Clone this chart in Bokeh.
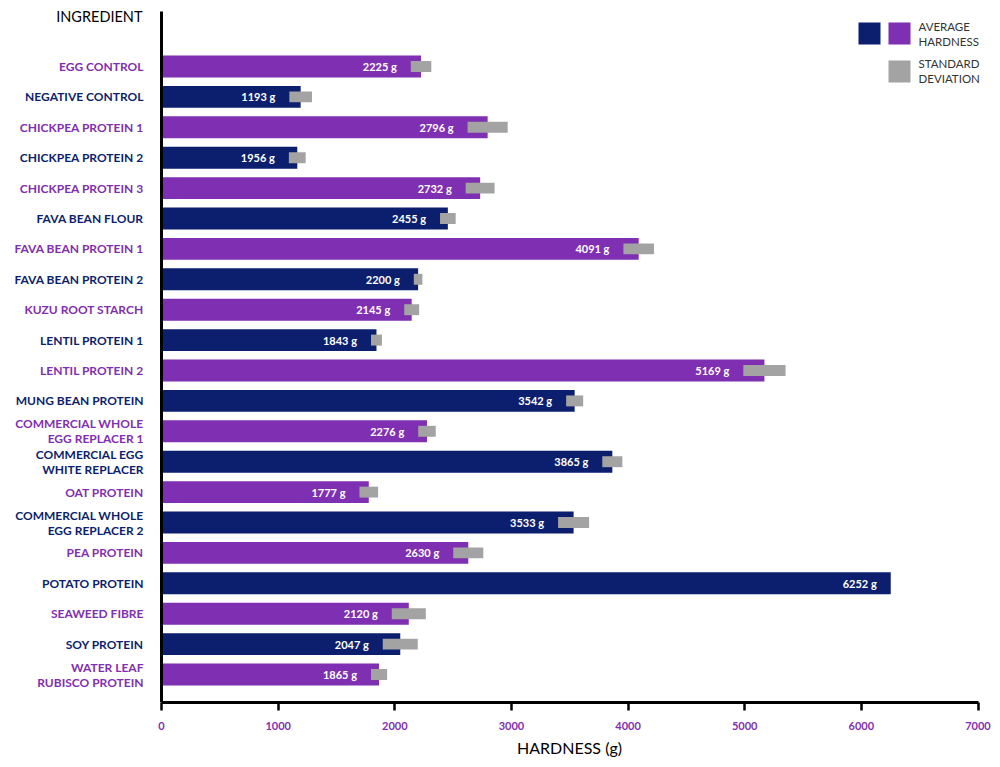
from bokeh.plotting import figure
from bokeh.layouts import row
from bokeh.models import (ColumnDataSource, Range1d, FixedTicker, LabelSet, Label,
                          BoxAnnotation)
from bokeh.core.properties import value
from bokeh.embed import file_html
from bokeh.resources import INLINE

ingredients = [
    "EGG CONTROL", "NEGATIVE CONTROL", "CHICKPEA PROTEIN 1", "CHICKPEA PROTEIN 2",
    "CHICKPEA PROTEIN 3", "FAVA BEAN FLOUR", "FAVA BEAN PROTEIN 1", "FAVA BEAN PROTEIN 2",
    "KUZU ROOT STARCH", "LENTIL PROTEIN 1", "LENTIL PROTEIN 2", "MUNG BEAN PROTEIN",
    "COMMERCIAL WHOLE\nEGG REPLACER 1", "COMMERCIAL EGG\nWHITE REPLACER", "OAT PROTEIN",
    "COMMERCIAL WHOLE\nEGG REPLACER 2", "PEA PROTEIN", "POTATO PROTEIN", "SEAWEED FIBRE",
    "SOY PROTEIN", "WATER LEAF\nRUBISCO PROTEIN",
]
hardness = [2225, 1193, 2796, 1164, 2732, 2455, 4091, 2200, 2145, 1843, 5169, 3542,
            2276, 3865, 1777, 3533, 2630, 6252, 2120, 2047, 1865]
value_labels = ["2225 g", "1193 g", "2796 g", "1956 g", "2732 g", "2455 g", "4091 g",
                "2200 g", "2145 g", "1843 g", "5169 g", "3542 g", "2276 g", "3865 g",
                "1777 g", "3533 g", "2630 g", "6252 g", "2120 g", "2047 g", "1865 g"]
std_dev = [88, 97, 172, 72, 124, 67, 131, 37, 64, 47, 181, 73, 75, 86, 80, 133, 129, 0,
           146, 150, 69]
x_ticks = [0, 1000, 2000, 3000, 4000, 5000, 6000, 7000]

PURPLE = "#7f2fb1"
NAVY = "#0b1f6e"
GRAY = "#a3a3a3"
FONT = "Lato"

n = len(ingredients)
pos = list(range(n))
colors = [PURPLE if i % 2 == 0 else NAVY for i in pos]

src = ColumnDataSource(dict(
    y=pos, v=hardness, lab=value_labels, sd=std_dev, color=colors,
    lo=[h - s for h, s in zip(hardness, std_dev)],
    hi=[h + s for h, s in zip(hardness, std_dev)],
))

# layout in page pixels
W, H = 992, 759
LEFT_W = 150                            # width of the label panel
FRAME_R, FRAME_T, FRAME_B = 988, 2, 702
AX0_PX, AX7_PX = 161.0, 977.5          # pixel positions of x=0 and x=7000
ROW0_PX, ROW_STEP = 66.0, 30.4         # pixel centre of first row, row spacing
LINE_STEP = 15.0 / ROW_STEP            # line spacing of two-line labels (rows)
XMAX = x_ticks[-1]

sx = (AX7_PX - AX0_PX) / XMAX
def dx(px):
    return (px - AX0_PX) / sx
def dy(py):
    return (py - ROW0_PX) / ROW_STEP

y_range = Range1d(dy(FRAME_B), dy(FRAME_T))

# split category names into right-aligned lines
line_y, line_txt, line_col = [], [], []
for i, name in enumerate(ingredients):
    parts = name.split("\n")
    k = len(parts)
    for j, part in enumerate(parts):
        line_y.append(i + (j - (k - 1) / 2) * LINE_STEP)
        line_txt.append(part)
        line_col.append(colors[i])

# ---------------- label panel ----------------
lp = figure(width=LEFT_W, height=H, output_backend="svg", toolbar_location=None,
            x_range=Range1d(0, LEFT_W), y_range=y_range,
            min_border_left=0, min_border_right=0,
            min_border_top=FRAME_T, min_border_bottom=H - FRAME_B)
lp.outline_line_color = None
lp.grid.visible = False
lp.axis.visible = False

lsrc = ColumnDataSource(dict(y=line_y, name=line_txt, color=line_col,
                             x=[LEFT_W - 7] * len(line_y)))
lp.add_layout(LabelSet(x="x", y="y", text="name", source=lsrc,
                       text_align="right", text_baseline="middle", text_color="color",
                       text_font=value(FONT), text_font_style="bold",
                       text_font_size="12px"))
lp.add_layout(Label(x=LEFT_W - 8, y=dy(16), text="INGREDIENT", text_align="right",
                    text_baseline="middle", text_font=FONT, text_font_size="14.5px",
                    text_color="black"))

# ---------------- main chart ----------------
p = figure(width=W - LEFT_W, height=H, output_backend="svg", toolbar_location=None,
           x_range=Range1d(dx(LEFT_W), dx(FRAME_R)), y_range=y_range,
           min_border_left=0, min_border_right=W - FRAME_R,
           min_border_top=FRAME_T, min_border_bottom=H - FRAME_B)
p.outline_line_color = None
p.grid.visible = False
p.background_fill_color = "white"

p.hbar(y="y", left=0, right="v", height=0.72, fill_color="color", line_color=None,
       source=src)
p.hbar(y="y", left="lo", right="hi", height=0.36, fill_color=GRAY, line_color=None,
       source=src)

p.add_layout(LabelSet(x="lo", y="y", text="lab", source=src, x_offset=-14,
                      text_align="right", text_baseline="middle", text_color="white",
                      text_font=value(FONT), text_font_style="bold",
                      text_font_size="11px"))

xa = p.xaxis[0]
xa.ticker = FixedTicker(ticks=x_ticks)
xa.bounds = (0, XMAX)
xa.minor_tick_line_color = None
xa.major_tick_in = 0
xa.major_tick_out = 8
xa.major_tick_line_width = 2.5
xa.axis_line_width = 3
xa.axis_line_color = "black"
xa.major_tick_line_color = "black"
xa.major_label_text_color = PURPLE
xa.major_label_text_font = FONT
xa.major_label_text_font_style = "bold"
xa.major_label_text_font_size = "11px"
xa.major_label_standoff = 11
xa.axis_label = "HARDNESS (g)"
xa.axis_label_text_font = FONT
xa.axis_label_text_font_style = "normal"
xa.axis_label_text_font_size = "16px"
xa.axis_label_text_color = "black"
xa.axis_label_standoff = 5
p.yaxis.visible = False

# vertical axis line at x = 0
p.segment(x0=[0], y0=[dy(11)], x1=[0], y1=[dy(FRAME_B)], line_color="black",
          line_width=3)

# legend
for (l, r, t, b, c) in [(858, 880, 22, 44, NAVY), (888, 910, 22, 44, PURPLE),
                        (888, 910, 60, 82, GRAY)]:
    p.add_layout(BoxAnnotation(left=dx(l), right=dx(r), top=dy(t), bottom=dy(b),
                               fill_color=c, fill_alpha=1, line_color=None,
                               level="overlay"))
for txt, py in [("AVERAGE", 26), ("HARDNESS", 40.5), ("STANDARD", 63), ("DEVIATION", 77.5)]:
    p.add_layout(Label(x=dx(918), y=dy(py), text=txt, text_align="left",
                       text_baseline="middle", text_font=FONT, text_font_size="11.5px",
                       text_color="#333333"))

layout = row(lp, p, spacing=0)
open("out.html", "w").write(file_html(layout, INLINE))
